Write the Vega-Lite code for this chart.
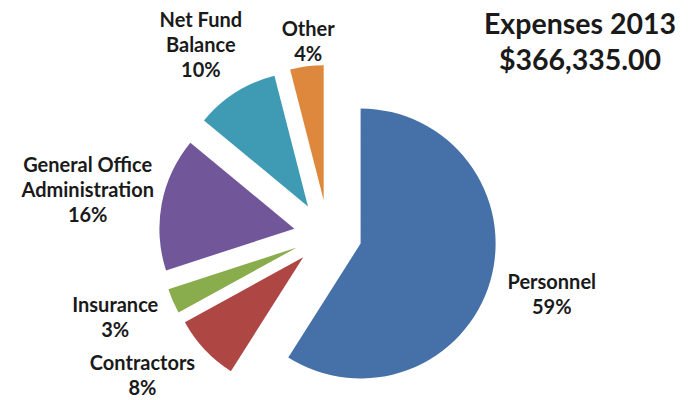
{
  "$schema": "https://vega.github.io/schema/vega-lite/v6.json",
  "width": 656,
  "height": 468,
  "autosize": {"type": "none"},
  "padding": {"left": 0, "top": 0, "right": 40, "bottom": 0},
  "background": "white",
  "config": {"view": {"stroke": null}},
  "title": {
    "text": ["Expenses 2013", "$366,335.00"],
    "anchor": "end",
    "frame": "group",
    "align": "center",
    "baseline": "bottom",
    "dx": -76,
    "dy": 17,
    "offset": -106,
    "font": "Lato",
    "fontSize": 28.5,
    "fontWeight": "bold",
    "lineHeight": 36,
    "color": "#1a1a1a"
  },
  "data": {
    "values": [
      {"category": "Personnel", "value": 59, "order": 1, "label": "Personnel\n59%"},
      {"category": "Contractors", "value": 8, "order": 2, "label": "Contractors\n8%"},
      {"category": "Insurance", "value": 3, "order": 3, "label": "Insurance\n3%"},
      {"category": "General Office Administration", "value": 16, "order": 4, "label": "General Office\nAdministration\n16%"},
      {"category": "Net Fund Balance", "value": 10, "order": 5, "label": "Net Fund\nBalance\n10%"},
      {"category": "Other", "value": 4, "order": 6, "label": "Other\n4%"}
    ]
  },
  "transform": [
    {"stack": "value", "groupby": [], "sort": [{"field": "order", "order": "ascending"}], "as": ["v0", "v1"]}
  ],
  "layer": [
    {
      "transform": [{"filter": "datum.category === 'Personnel'"}],
      "mark": {"type": "arc", "outerRadius": 135, "xOffset": 32.6, "yOffset": 9.5},
      "encoding": {
        "theta": {"field": "v0", "type": "quantitative", "scale": {"domain": [0, 100]}},
        "theta2": {"field": "v1"},
        "color": {"field": "category", "type": "nominal", "legend": null, "scale": {"domain": ["Personnel", "Contractors", "Insurance", "General Office Administration", "Net Fund Balance", "Other"], "range": ["#4671A8", "#AE4644", "#89AC4D", "#71579A", "#3F9AB4", "#DE883D"]}}
      }
    },
    {
      "transform": [{"filter": "datum.category === 'Contractors'"}],
      "mark": {"type": "arc", "outerRadius": 135, "xOffset": -24.8, "yOffset": 23.3},
      "encoding": {
        "theta": {"field": "v0", "type": "quantitative", "scale": {"domain": [0, 100]}},
        "theta2": {"field": "v1"},
        "color": {"field": "category", "type": "nominal", "legend": null, "scale": {"domain": ["Personnel", "Contractors", "Insurance", "General Office Administration", "Net Fund Balance", "Other"], "range": ["#4671A8", "#AE4644", "#89AC4D", "#71579A", "#3F9AB4", "#DE883D"]}}
      }
    },
    {
      "transform": [{"filter": "datum.category === 'Insurance'"}],
      "mark": {"type": "arc", "outerRadius": 135, "xOffset": -31.2, "yOffset": 13.5},
      "encoding": {
        "theta": {"field": "v0", "type": "quantitative", "scale": {"domain": [0, 100]}},
        "theta2": {"field": "v1"},
        "color": {"field": "category", "type": "nominal", "legend": null, "scale": {"domain": ["Personnel", "Contractors", "Insurance", "General Office Administration", "Net Fund Balance", "Other"], "range": ["#4671A8", "#AE4644", "#89AC4D", "#71579A", "#3F9AB4", "#DE883D"]}}
      }
    },
    {
      "transform": [{"filter": "datum.category === 'General Office Administration'"}],
      "mark": {"type": "arc", "outerRadius": 135, "xOffset": -33.6, "yOffset": -5.3},
      "encoding": {
        "theta": {"field": "v0", "type": "quantitative", "scale": {"domain": [0, 100]}},
        "theta2": {"field": "v1"},
        "color": {"field": "category", "type": "nominal", "legend": null, "scale": {"domain": ["Personnel", "Contractors", "Insurance", "General Office Administration", "Net Fund Balance", "Other"], "range": ["#4671A8", "#AE4644", "#89AC4D", "#71579A", "#3F9AB4", "#DE883D"]}}
      }
    },
    {
      "transform": [{"filter": "datum.category === 'Net Fund Balance'"}],
      "mark": {"type": "arc", "outerRadius": 135, "xOffset": -20.0, "yOffset": -27.5},
      "encoding": {
        "theta": {"field": "v0", "type": "quantitative", "scale": {"domain": [0, 100]}},
        "theta2": {"field": "v1"},
        "color": {"field": "category", "type": "nominal", "legend": null, "scale": {"domain": ["Personnel", "Contractors", "Insurance", "General Office Administration", "Net Fund Balance", "Other"], "range": ["#4671A8", "#AE4644", "#89AC4D", "#71579A", "#3F9AB4", "#DE883D"]}}
      }
    },
    {
      "transform": [{"filter": "datum.category === 'Other'"}],
      "mark": {"type": "arc", "outerRadius": 135, "xOffset": -4.3, "yOffset": -33.7},
      "encoding": {
        "theta": {"field": "v0", "type": "quantitative", "scale": {"domain": [0, 100]}},
        "theta2": {"field": "v1"},
        "color": {"field": "category", "type": "nominal", "legend": null, "scale": {"domain": ["Personnel", "Contractors", "Insurance", "General Office Administration", "Net Fund Balance", "Other"], "range": ["#4671A8", "#AE4644", "#89AC4D", "#71579A", "#3F9AB4", "#DE883D"]}}
      }
    },
    {
      "mark": {"type": "text", "radius": 197, "xOffset": 34.6, "yOffset": -5.5, "font": "Lato", "fontSize": 20, "fontWeight": "bold", "lineBreak": "\n", "lineHeight": 25, "align": "center", "baseline": "middle", "color": "#1a1a1a"},
      "encoding": {
        "theta": {"field": "value", "type": "quantitative", "stack": true, "scale": {"domain": [0, 100]}},
        "order": {"field": "order", "type": "quantitative"},
        "text": {"condition": {"test": "datum.category === 'Personnel'", "field": "label", "type": "nominal"}, "value": ""}
      }
    },
    {
      "mark": {"type": "text", "radius": 201, "thetaOffset": 0.11, "xOffset": -24.8, "yOffset": 9.8, "font": "Lato", "fontSize": 20, "fontWeight": "bold", "lineBreak": "\n", "lineHeight": 25, "align": "center", "baseline": "middle", "color": "#1a1a1a"},
      "encoding": {
        "theta": {"field": "value", "type": "quantitative", "stack": true, "scale": {"domain": [0, 100]}},
        "order": {"field": "order", "type": "quantitative"},
        "text": {"condition": {"test": "datum.category === 'Contractors'", "field": "label", "type": "nominal"}, "value": ""}
      }
    },
    {
      "mark": {"type": "text", "radius": 194, "thetaOffset": 0.048, "xOffset": -31.2, "yOffset": 3.5, "font": "Lato", "fontSize": 20, "fontWeight": "bold", "lineBreak": "\n", "lineHeight": 25, "align": "center", "baseline": "middle", "color": "#1a1a1a"},
      "encoding": {
        "theta": {"field": "value", "type": "quantitative", "stack": true, "scale": {"domain": [0, 100]}},
        "order": {"field": "order", "type": "quantitative"},
        "text": {"condition": {"test": "datum.category === 'Insurance'", "field": "label", "type": "nominal"}, "value": ""}
      }
    },
    {
      "mark": {"type": "text", "radius": 212, "thetaOffset": 0.036, "xOffset": -33.6, "yOffset": -21.3, "font": "Lato", "fontSize": 20, "fontWeight": "bold", "lineBreak": "\n", "lineHeight": 25, "align": "center", "baseline": "middle", "color": "#1a1a1a"},
      "encoding": {
        "theta": {"field": "value", "type": "quantitative", "stack": true, "scale": {"domain": [0, 100]}},
        "order": {"field": "order", "type": "quantitative"},
        "text": {"condition": {"test": "datum.category === 'General Office Administration'", "field": "label", "type": "nominal"}, "value": ""}
      }
    },
    {
      "mark": {"type": "text", "radius": 200, "xOffset": -20.0, "yOffset": -44.5, "font": "Lato", "fontSize": 20, "fontWeight": "bold", "lineBreak": "\n", "lineHeight": 25, "align": "center", "baseline": "middle", "color": "#1a1a1a"},
      "encoding": {
        "theta": {"field": "value", "type": "quantitative", "stack": true, "scale": {"domain": [0, 100]}},
        "order": {"field": "order", "type": "quantitative"},
        "text": {"condition": {"test": "datum.category === 'Net Fund Balance'", "field": "label", "type": "nominal"}, "value": ""}
      }
    },
    {
      "mark": {"type": "text", "radius": 163, "thetaOffset": 0.03, "xOffset": -4.3, "yOffset": -41.7, "font": "Lato", "fontSize": 20, "fontWeight": "bold", "lineBreak": "\n", "lineHeight": 25, "align": "center", "baseline": "middle", "color": "#1a1a1a"},
      "encoding": {
        "theta": {"field": "value", "type": "quantitative", "stack": true, "scale": {"domain": [0, 100]}},
        "order": {"field": "order", "type": "quantitative"},
        "text": {"condition": {"test": "datum.category === 'Other'", "field": "label", "type": "nominal"}, "value": ""}
      }
    }
  ]
}
